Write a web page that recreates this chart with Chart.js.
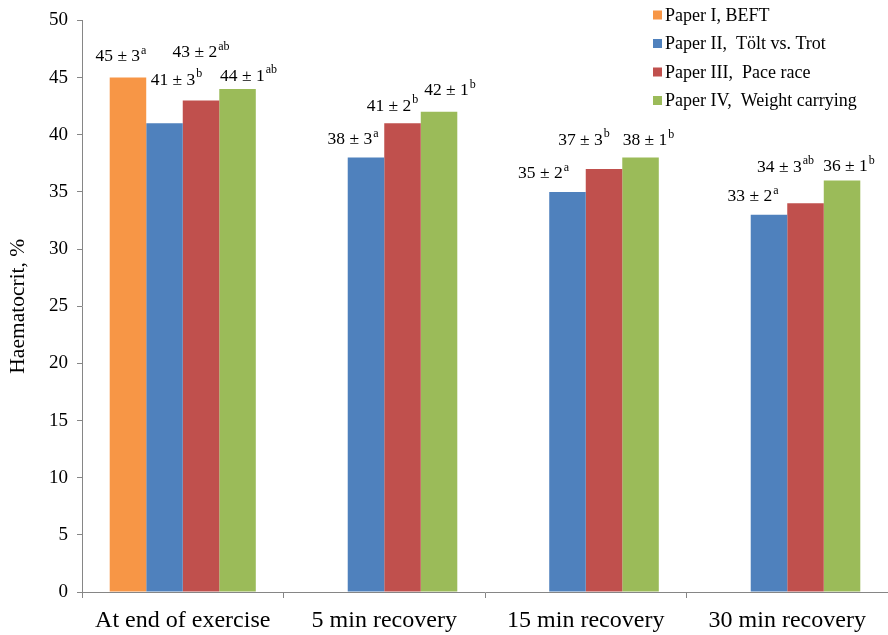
<!DOCTYPE html>
<html>
<head>
<meta charset="utf-8">
<script src="https://cdn.jsdelivr.net/npm/chart.js@4.4.0/dist/chart.umd.min.js"></script>
<style>
  html, body { margin: 0; padding: 0; background: #fff; }
  #wrap { width: 888px; height: 635px; position: relative; }
</style>
</head>
<body>
<div id="wrap"><canvas id="chart"></canvas></div>
<script>
// Categories and series
const categories = ['At end of exercise', '5 min recovery', '15 min recovery', '30 min recovery'];
const seriesNames = ['Paper I, BEFT', 'Paper II,  Tölt vs. Trot', 'Paper III,  Pace race', 'Paper IV,  Weight carrying'];

const paperI = [45, null, null, null];
const paperII = [41, 38, 35, 33];
const paperIII = [43, 41, 37, 34];
const paperIV = [44, 42, 38, 36];

// Standard deviations and significance letters
const sdI = [3, null, null, null];
const sdII = [3, 3, 2, 2];
const sdIII = [2, 2, 3, 3];
const sdIV = [1, 1, 1, 1];
const supI = ['a', null, null, null];
const supII = ['b', 'a', 'a', 'a'];
const supIII = ['ab', 'b', 'b', 'ab'];
const supIV = ['ab', 'b', 'b', 'b'];

const colors = ['#F79646', '#4F81BD', '#C0504D', '#9BBB59'];
const serif = "'Liberation Serif', 'Times New Roman', serif";

// label placement relative to the bar top centre (dx, dy) - as in the original figure
const labelNudge = [
    [[-7, -21]],
    [[12, -43], [-13, -18], [-24, -18], [-16, -18]],
    [[0, -48], [-10, -17], [-20, -29], [-20, -36]],
    [[11, -13], [11, -21], [8, -17], [7, -14]]
];

const allValues = [paperI, paperII, paperIII, paperIV];
const allSd = [sdI, sdII, sdIII, sdIV];
const allSup = [supI, supII, supIII, supIV];

const valueLabels = {
    id: 'valueLabels',
    afterDatasetsDraw(chart) {
        const ctx = chart.ctx;
        ctx.save();
        ctx.fillStyle = '#000';
        ctx.textBaseline = 'middle';
        ctx.textAlign = 'left';
        chart.data.datasets.forEach((ds, i) => {
            const meta = chart.getDatasetMeta(i);
            meta.data.forEach((bar, j) => {
                const v = allValues[i][j];
                if (v === null) return;
                const main = v + ' \u00B1 ' + allSd[i][j];
                const sup = allSup[i][j];
                ctx.font = '17.5px ' + serif;
                const w1 = ctx.measureText(main).width;
                ctx.font = '12px ' + serif;
                const w2 = ctx.measureText(sup).width;
                const nudge = labelNudge[i][j] || [0, -15];
                const cx = bar.x + nudge[0];
                const cy = bar.y + nudge[1];
                const x0 = cx - (w1 + w2 + 1) / 2;
                ctx.font = '17.5px ' + serif;
                ctx.fillText(main, x0, cy);
                ctx.font = '12px ' + serif;
                ctx.fillText(sup, x0 + w1 + 1, cy - 6);
            });
        });
        ctx.restore();
    }
};

const customLegend = {
    id: 'customLegend',
    afterDraw(chart) {
        const ctx = chart.ctx;
        ctx.save();
        ctx.font = '18px ' + serif;
        ctx.textBaseline = 'middle';
        ctx.textAlign = 'left';
        seriesNames.forEach((name, i) => {
            const y = 15 + i * 28.5;
            ctx.fillStyle = colors[i];
            ctx.fillRect(653, y - 4.5, 9, 9);
            ctx.fillStyle = '#000';
            ctx.fillText(name, 665, y + 1);
        });
        ctx.restore();
    }
};

const ctx = document.getElementById('chart').getContext('2d');
new Chart(ctx, {
    type: 'bar',
    data: {
        labels: categories,
        datasets: allValues.map((vals, i) => ({
            label: seriesNames[i],
            data: vals,
            backgroundColor: colors[i],
            borderWidth: 0,
            categoryPercentage: 0.725,
            barPercentage: 1.0
        }))
    },
    options: {
        responsive: true,
        maintainAspectRatio: false,
        animation: false,
        layout: {
            padding: { top: 17, right: 0, left: 0, bottom: 0 }
        },
        scales: {
            x: {
                afterFit: (scale) => { scale.height = 43; },
                grid: {
                    display: true,
                    drawOnChartArea: false,
                    drawTicks: true,
                    tickLength: 6,
                    color: '#868686',
                    offset: true
                },
                border: { color: '#868686', width: 1 },
                ticks: {
                    color: '#000',
                    font: { family: serif, size: 24 },
                    padding: 8,
                    maxRotation: 0
                }
            },
            y: {
                min: 0,
                max: 50,
                afterFit: (scale) => { scale.width = 82; },
                grid: {
                    display: true,
                    drawOnChartArea: false,
                    drawTicks: true,
                    tickLength: 5,
                    color: '#868686'
                },
                border: { color: '#868686', width: 1 },
                ticks: {
                    stepSize: 5,
                    color: '#000',
                    font: { family: serif, size: 19 },
                    padding: 9
                },
                title: {
                    display: true,
                    text: 'Haematocrit, %',
                    color: '#000',
                    font: { family: serif, size: 21.5 },
                    padding: { top: 5, bottom: 0 }
                }
            }
        },
        plugins: {
            legend: { display: false },
            tooltip: { enabled: false }
        }
    },
    plugins: [valueLabels, customLegend]
});
</script>
</body>
</html>
